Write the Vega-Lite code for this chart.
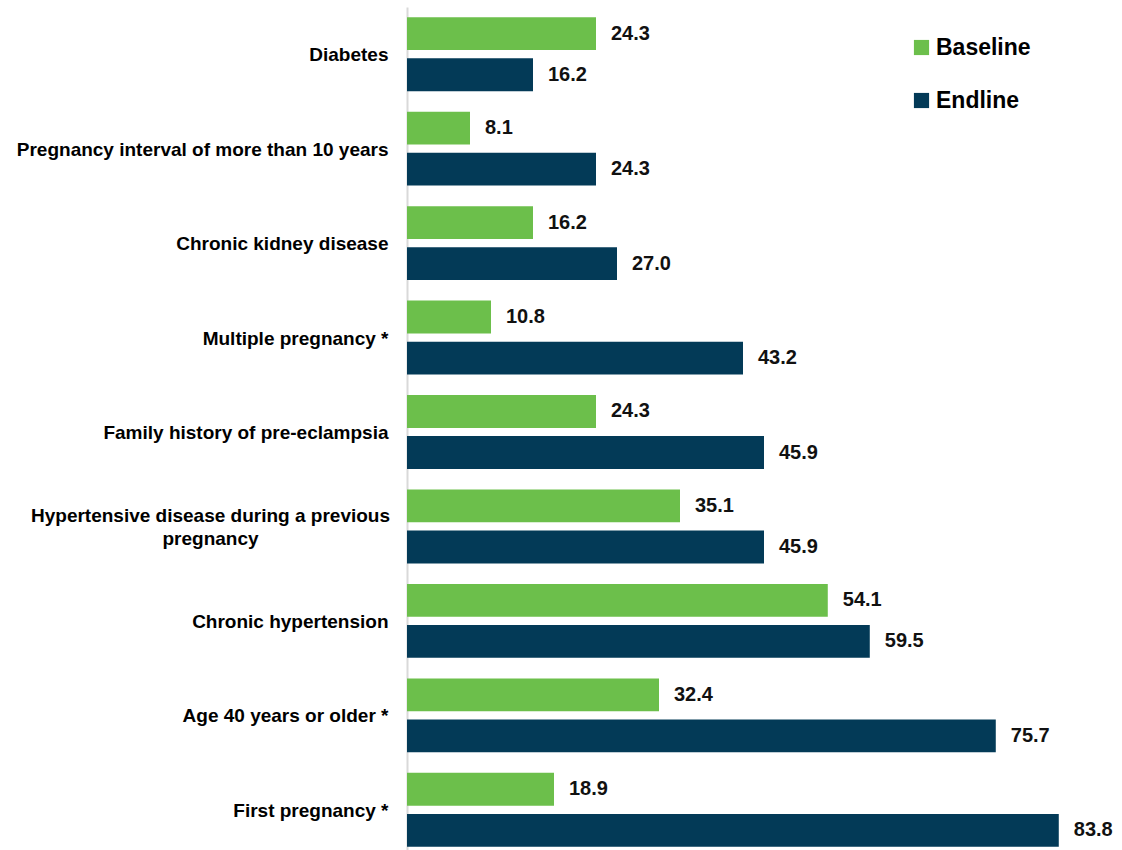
{
  "$schema": "https://vega.github.io/schema/vega-lite/v6.json",
  "autosize": {"type": "none"},
  "padding": {"left": 407, "top": 7, "right": 15, "bottom": 0},
  "width": 700,
  "height": 850,
  "background": "white",
  "config": {"view": {"stroke": null}, "font": "Liberation Sans"},
  "data": {
    "values": [
      {"factor": "Diabetes", "period": "Baseline", "pct": 24.3},
      {"factor": "Diabetes", "period": "Endline", "pct": 16.2},
      {"factor": "Pregnancy interval of more than 10 years", "period": "Baseline", "pct": 8.1},
      {"factor": "Pregnancy interval of more than 10 years", "period": "Endline", "pct": 24.3},
      {"factor": "Chronic kidney disease", "period": "Baseline", "pct": 16.2},
      {"factor": "Chronic kidney disease", "period": "Endline", "pct": 27.0},
      {"factor": "Multiple pregnancy *", "period": "Baseline", "pct": 10.8},
      {"factor": "Multiple pregnancy *", "period": "Endline", "pct": 43.2},
      {"factor": "Family history of pre-eclampsia", "period": "Baseline", "pct": 24.3},
      {"factor": "Family history of pre-eclampsia", "period": "Endline", "pct": 45.9},
      {"factor": "Hypertensive disease during a previous pregnancy", "period": "Baseline", "pct": 35.1},
      {"factor": "Hypertensive disease during a previous pregnancy", "period": "Endline", "pct": 45.9},
      {"factor": "Chronic hypertension", "period": "Baseline", "pct": 54.1},
      {"factor": "Chronic hypertension", "period": "Endline", "pct": 59.5},
      {"factor": "Age 40 years or older *", "period": "Baseline", "pct": 32.4},
      {"factor": "Age 40 years or older *", "period": "Endline", "pct": 75.7},
      {"factor": "First pregnancy *", "period": "Baseline", "pct": 18.9},
      {"factor": "First pregnancy *", "period": "Endline", "pct": 83.8}
    ]
  },
  "encoding": {
    "y": {
      "field": "factor",
      "type": "nominal",
      "sort": null,
      "title": null,
      "scale": {"paddingInner": 0, "paddingOuter": 0},
      "axis": {
        "domainColor": "#d9d9d9",
        "domainWidth": 2,
        "ticks": false,
        "labelFontSize": 19,
        "labelFontWeight": "bold",
        "labelColor": "#000000",
        "labelLimit": 400,
        "labelLineHeight": 23,
        "labelExpr": "datum.label == 'Hypertensive disease during a previous pregnancy' ? ['Hypertensive disease during a previous', 'pregnancy'] : datum.label",
        "labelAlign": {"condition": {"test": "datum.value == 'Hypertensive disease during a previous pregnancy'", "value": "center"}, "value": "right"},
        "labelPadding": {"condition": {"test": "datum.value == 'Hypertensive disease during a previous pregnancy'", "value": 197}, "value": 19},
        "labelOffset": {"condition": {"test": "datum.value == 'Hypertensive disease during a previous pregnancy'", "value": -10}, "value": 1}
      }
    },
    "yOffset": {
      "field": "period",
      "type": "nominal",
      "scale": {"paddingInner": 0.2, "paddingOuter": 0.25}
    }
  },
  "layer": [
    {
      "mark": {"type": "bar"},
      "encoding": {
        "x": {
          "field": "pct",
          "type": "quantitative",
          "scale": {"domain": [0, 90], "nice": false},
          "axis": null
        },
        "color": {
          "field": "period",
          "type": "nominal",
          "scale": {"domain": ["Baseline", "Endline"], "range": ["#6cbf4b", "#033a57"]},
          "legend": {
            "title": null,
            "orient": "none",
            "legendX": 503,
            "legendY": 29,
            "symbolType": "square",
            "symbolSize": 230,
            "symbolStrokeWidth": 0,
            "labelFontSize": 23,
            "labelFontWeight": "bold",
            "labelColor": "#000000",
            "rowPadding": 29,
            "labelOffset": 3
          }
        }
      }
    },
    {
      "mark": {"type": "text", "align": "left", "dx": 15, "fontSize": 20, "fontWeight": "bold", "color": "#111111"},
      "encoding": {
        "x": {"field": "pct", "type": "quantitative"},
        "text": {"field": "pct", "type": "quantitative", "format": ".1f"}
      }
    }
  ]
}
